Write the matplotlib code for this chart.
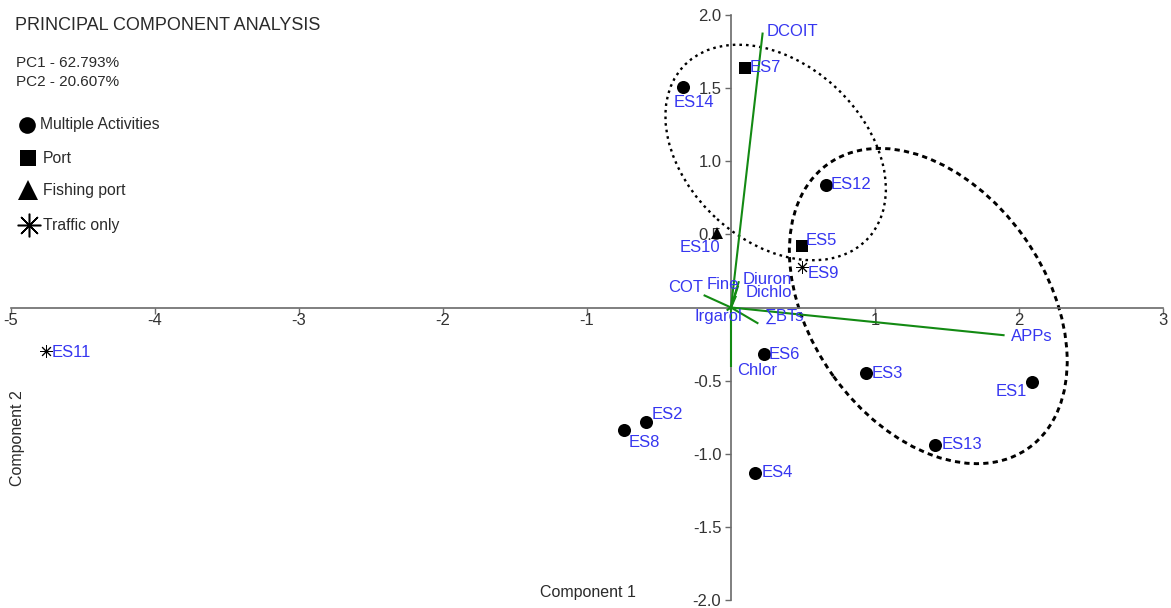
import matplotlib
matplotlib.use("Agg")
import matplotlib.pyplot as plt
from matplotlib.patches import Ellipse
from matplotlib.lines import Line2D

plt.rcParams['font.family'] = ['Liberation Sans', 'DejaVu Sans']

# ---- site scores on the first two principal components ----
sites = ['ES1', 'ES2', 'ES3', 'ES4', 'ES5', 'ES6', 'ES7', 'ES8',
         'ES9', 'ES10', 'ES11', 'ES12', 'ES13', 'ES14']
pc1 = [2.09, -0.59, 0.94, 0.17, 0.49, 0.23, 0.10, -0.74,
       0.49, -0.10, -4.76, 0.66, 1.42, -0.33]
pc2 = [-0.51, -0.78, -0.45, -1.13, 0.42, -0.32, 1.64, -0.84,
       0.28, 0.51, -0.30, 0.84, -0.94, 1.51]
site_type = ['Multiple Activities', 'Multiple Activities', 'Multiple Activities',
             'Multiple Activities', 'Port', 'Multiple Activities', 'Port',
             'Multiple Activities', 'Traffic only', 'Fishing port', 'Traffic only',
             'Multiple Activities', 'Multiple Activities', 'Multiple Activities']

# ---- variable loadings (biplot vectors) ----
variables = ['DCOIT', 'APPs', 'COT', '\u2211BTs', 'Chlor', 'Fine',
             'Diuron', 'Dichlo', 'Irgarol']
load1 = [0.22, 1.90, -0.19, 0.19, 0.00, 0.055, 0.05, 0.035, -0.03]
load2 = [1.88, -0.19, 0.085, -0.11, -0.41, 0.18, 0.15, 0.08, -0.02]

explained = {'PC1': 62.793, 'PC2': 20.607}

x_ticks = [-5, -4, -3, -2, -1, 1, 2, 3]
y_ticks = [-2.0, -1.5, -1.0, -0.5, 0.5, 1.0, 1.5, 2.0]

# ---- group ellipses: centre (pc1, pc2), width, height, angle ----
groups = [
    dict(center=(0.31, 1.06), width=1.74, height=1.22, angle=-41.8,
         style=(0, (1.1, 1.7)), lw=1.7),
    dict(center=(1.37, 0.01), width=2.39, height=1.63, angle=-53.8,
         style=(0, (1.8, 1.45)), lw=2.1),
]

# ---- styling ----
W, H = 1171, 608
label_blue = '#3636f0'
vec_green = '#138a13'
axis_grey = '#6a6a6a'
text_dark = '#2a2a2a'

markers = {
    'Multiple Activities': dict(marker='o', ms=9.4, mfc='black', mec='black', mew=0),
    'Port': dict(marker='s', ms=9.0, mfc='black', mec='black', mew=0),
    'Fishing port': dict(marker='^', ms=8.0, mfc='black', mec='black', mew=0),
    'Traffic only': dict(marker=(8, 2, 0), ms=9.0, mfc='black', mec='black', mew=0.7),
}

# label placement for each site: (dx px, dy px, horizontal alignment)
site_label_pos = {
    'ES1': (-5, -9, 'right'), 'ES2': (6, 7, 'left'), 'ES3': (5, 0, 'left'),
    'ES4': (6, 0, 'left'), 'ES5': (4, 6, 'left'), 'ES6': (5, 0, 'left'),
    'ES7': (4, 0, 'left'), 'ES8': (4, -12, 'left'), 'ES9': (6, -7, 'left'),
    'ES10': (4, -15, 'right'), 'ES11': (6, -1, 'left'), 'ES12': (5, 0, 'left'),
    'ES13': (6, 0, 'left'), 'ES14': (-10, -16, 'left'),
}
var_label_pos = {
    'DCOIT': (4, 1, 'left'), 'APPs': (6, -1, 'left'), 'COT': (-1, 8, 'right'),
    '\u2211BTs': (6, 7, 'left'), 'Chlor': (6, -3, 'left'), 'Fine': (0, -3, 'right'),
    'Diuron': (4, 6, 'left'), 'Dichlo': (10, 3, 'left'), 'Irgarol': (-8, -6, 'center'),
}

fig = plt.figure(figsize=(W / 100, H / 100), dpi=100)
ax = fig.add_axes([11 / W, 8 / H, 1152 / W, 585 / H])
ax.set_xlim(-5, 3)
ax.set_ylim(-2, 2)

# axes crossing at the origin
for side in ('top', 'right'):
    ax.spines[side].set_visible(False)
ax.spines['left'].set_position('zero')
ax.spines['bottom'].set_position('zero')
for side in ('left', 'bottom'):
    ax.spines[side].set_color(axis_grey)
    ax.spines[side].set_linewidth(1.2)
ax.set_xticks(x_ticks)
ax.set_xticklabels([f'{v:d}' for v in x_ticks])
ax.set_yticks(y_ticks)
ax.set_yticklabels([f'{v:.1f}' for v in y_ticks])
ax.tick_params(axis='both', direction='out', length=4, width=1.0,
               color=axis_grey, labelsize=12, labelcolor='#333333')
ax.tick_params(axis='x', pad=0)
ax.tick_params(axis='y', pad=3)

# group ellipses
for g in groups:
    ax.add_patch(Ellipse(g['center'], g['width'], g['height'], angle=g['angle'],
                         fill=False, edgecolor='black', lw=g['lw'],
                         linestyle=g['style'], zorder=2))

# loading vectors
for name, lx, ly in zip(variables, load1, load2):
    ax.plot([0, lx], [0, ly], color=vec_green, lw=1.5, zorder=3,
            solid_capstyle='butt')
    dx, dy, ha = var_label_pos[name]
    ax.annotate(name, (lx, ly), xytext=(dx, dy), textcoords='offset pixels',
                ha=ha, va='center', fontsize=12, color=label_blue, zorder=5)

# site scores
for name, x, y, kind in zip(sites, pc1, pc2, site_type):
    ax.plot([x], [y], linestyle='none', zorder=4, **markers[kind])
    dx, dy, ha = site_label_pos[name]
    ax.annotate(name, (x, y), xytext=(dx, dy), textcoords='offset pixels',
                ha=ha, va='center', fontsize=12, color=label_blue, zorder=5)


def fx(px):
    return px / W


def fy(py):
    return 1 - py / H


# header text
fig.text(fx(15), fy(26), 'PRINCIPAL COMPONENT ANALYSIS', fontsize=13,
         color=text_dark, va='center', ha='left')
fig.text(fx(16), fy(63), f"PC1 - {explained['PC1']:.3f}%", fontsize=11,
         color=text_dark, va='center', ha='left')
fig.text(fx(16), fy(82), f"PC2 - {explained['PC2']:.3f}%", fontsize=11,
         color=text_dark, va='center', ha='left')

# key for site types
key_rows = [
    ('Multiple Activities', 27, 125, 40, dict(marker='o', ms=12, mew=0)),
    ('Port', 28, 158, 43, dict(marker='s', ms=11, mew=0)),
    ('Fishing port', 28, 190, 43, dict(marker='^', ms=14, mew=0)),
    ('Traffic only', 29, 225, 43, dict(marker=(8, 2, 0), ms=17, mew=1.1)),
]
for label, mx, my, tx, mstyle in key_rows:
    fig.add_artist(Line2D([fx(mx)], [fy(my)], transform=fig.transFigure,
                          linestyle='none', color='black', mfc='black',
                          mec='black', **mstyle))
    fig.text(fx(tx), fy(my), label, fontsize=11.3, color=text_dark,
             va='center', ha='left')

# axis titles
fig.text(fx(588), fy(592), 'Component 1', fontsize=11.5, color=text_dark,
         ha='center', va='center')
fig.text(fx(18), fy(438), 'Component 2', fontsize=11.5, color=text_dark,
         ha='center', va='center', rotation=90)

fig.savefig('out.png', dpi=100)
